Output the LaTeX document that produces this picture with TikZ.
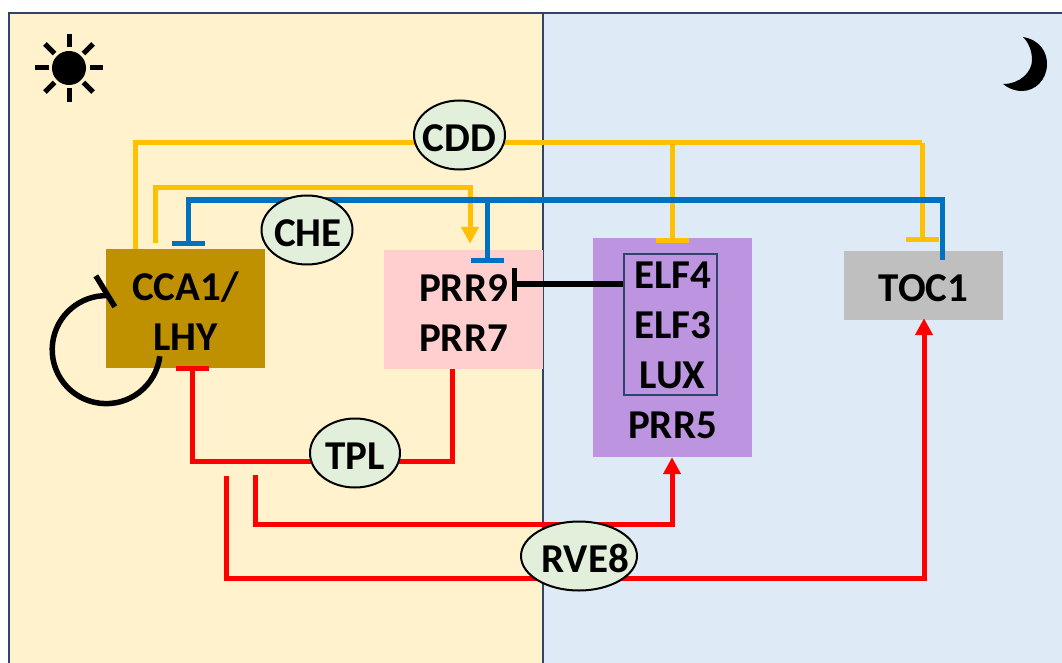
\documentclass[tikz,border=0pt]{standalone}
\usepackage{fontspec}
\setmainfont{Carlito}
\usetikzlibrary{arrows.meta,calc,shapes.geometric}
\definecolor{dayfill}{HTML}{FFF2CC}
\definecolor{nightfill}{HTML}{DEEAF6}
\definecolor{framecol}{HTML}{2F4468}
\definecolor{ccafill}{HTML}{BF9000}
\definecolor{prrfill}{HTML}{FFCFCF}
\definecolor{elffill}{HTML}{BC94E0}
\definecolor{tocfill}{HTML}{BFBFBF}
\definecolor{regfill}{HTML}{E2EFDA}
\definecolor{yelcol}{HTML}{FFC000}
\definecolor{bluecol}{HTML}{0070C0}
\newcommand{\nudge}{\rule{0pt}{33pt}}
\tikzset{
  genebox/.style={inner sep=0pt,minimum width=159pt,align=center,font=\fontsize{41}{50}\selectfont\bfseries},
  regnode/.style={draw=black,line width=2pt,fill=regfill,ellipse,inner sep=0pt,minimum height=69pt,font=\fontsize{41}{50}\selectfont\bfseries},
  yelline/.style={yelcol,line width=5pt},
  blueline/.style={bluecol,line width=5pt},
  redline/.style={red,line width=5pt},
  blackline/.style={black,line width=5.5pt},
  tbar/.style={-{Bar[width=33pt,line width=5pt]}},
  tarrow/.style={-{Triangle[width=17pt,length=17pt]}}
}
\begin{document}
\begin{tikzpicture}[x=1pt,y=1pt]
  \useasboundingbox (0,0) rectangle (1062,-663);
  \fill[white] (0,0) rectangle (1062,-663);
  \fill[dayfill] (9,-13) rectangle (543,-663);
  \fill[nightfill] (543,-13) rectangle (1062,-663);
  \draw[framecol,line width=2.5pt] (9,-663)--(9,-13)--(1062,-13);
  \draw[framecol,line width=2.5pt] (543,-13)--(543,-663);
  \fill[black] (69,-68) circle (17);
  \foreach \a in {0,45,...,315}{
    \draw[black,line width=5pt] ($(69,-68)+(\a:20.5)$)--($(69,-68)+(\a:34)$);
  }
  \fill[black] (1023,-37) .. controls (1040,-40) and (1047,-52) .. (1047,-64)
    .. controls (1047,-80) and (1035,-91) .. (1022,-91)
    .. controls (1014,-91) and (1008,-88) .. (1003,-84)
    .. controls (1020,-84) and (1032,-72) .. (1032,-60)
    .. controls (1032,-50) and (1028,-42) .. (1023,-37);
  \node[genebox,fill=ccafill,minimum height=119pt] (cca) at (185.5,-308.5) {\nudge CCA1/\\LHY};
  \node[genebox,fill=prrfill,minimum height=119pt] (prr) at (463.5,-309.5) {\nudge PRR9\\PRR7};
  \node[genebox,fill=elffill,minimum height=219pt] (elf) at (672.5,-347.5) {\nudge ELF4\\ELF3\\LUX\\PRR5};
  \node[genebox,fill=tocfill,minimum height=69pt] (toc) at (923.5,-285.5) {\nudge TOC1};
  \node[draw=framecol,line width=2pt,minimum width=93pt,minimum height=141pt,inner sep=0pt] (lec) at (670.5,-324.5) {};
  \coordinate (ytopl) at (135,-143);
  \coordinate (ytopr) at (922,-143);
  \coordinate (ybranch) at (672,-143);
  \coordinate (ylowl) at (155,-188);
  \coordinate (ylowr) at (470,-188);
  \coordinate (btopl) at (188,-200);
  \coordinate (btopr) at (942,-200);
  \coordinate (bbranch) at (487,-200);
  \coordinate (rtplr) at (452,-461.5);
  \coordinate (rtpll) at (192,-461.5);
  \coordinate (relfl) at (255,-524);
  \coordinate (relfr) at (672,-524);
  \coordinate (rtocl) at (226,-578);
  \coordinate (rtocr) at (924,-578);
  \draw[yelline] (cca.north -| ytopl)--(ytopl)--(ytopr);
  \draw[yelline,tbar] (ytopr)--($(toc.north -| ytopr)+(0,9)$);
  \draw[yelline,tbar] (ybranch)--($(elf.north -| ybranch)+(0,-5)$);
  \draw[yelline,tarrow] ($(cca.north -| ylowl)+(0,6)$)--(ylowl)--(ylowr)--($(prr.north -| ylowr)+(0,6)$);
  \draw[blueline,tbar] ($(toc.north -| btopr)+(0,-9)$)--(btopr)--(btopl)--($(cca.north -| btopl)+(0,3)$);
  \draw[blueline,tbar] (bbranch)--($(prr.north -| bbranch)+(0,-13)$);
  \draw[redline,tbar] (prr.south -| rtplr)--(rtplr)--(rtpll)--($(cca.south -| rtpll)+(0,2)$);
  \draw[redline,tarrow] ($(rtpll -| relfl)+(0,-13)$)--(relfl)--(relfr)--(elf.south -| relfr);
  \draw[redline,tarrow] ($(rtpll -| rtocl)+(0,-14)$)--(rtocl)--(rtocr)--($(toc.south -| rtocr)+(0,2)$);
  \draw[blackline,-{Bar[width=33pt,line width=5pt]}] (lec.west |- 0,-284)--(512,-284);
  \draw[blackline] ($(cca.south west)+(54,12)$) arc[start angle=-7,end angle=-272,radius=54];
  \draw[blackline] ($(cca.north west)+(-10,-27)$)--($(cca.north west)+(9,-58)$);
  \node[regnode,minimum width=91pt] (cdd) at (459.5,-135) {\makebox[0pt]{\nudge CDD}};
  \node[regnode,minimum width=91pt] (che) at (307,-230) {\makebox[0pt]{\nudge\hspace{2pt}CHE}};
  \node[regnode,minimum width=90pt] (tpl) at (355,-453) {\makebox[0pt]{\nudge TPL}};
  \node[regnode,minimum width=116pt] (rve) at (579,-556) {\makebox[0pt]{\nudge\hspace{12pt}RVE8}};
\end{tikzpicture}
\end{document}
